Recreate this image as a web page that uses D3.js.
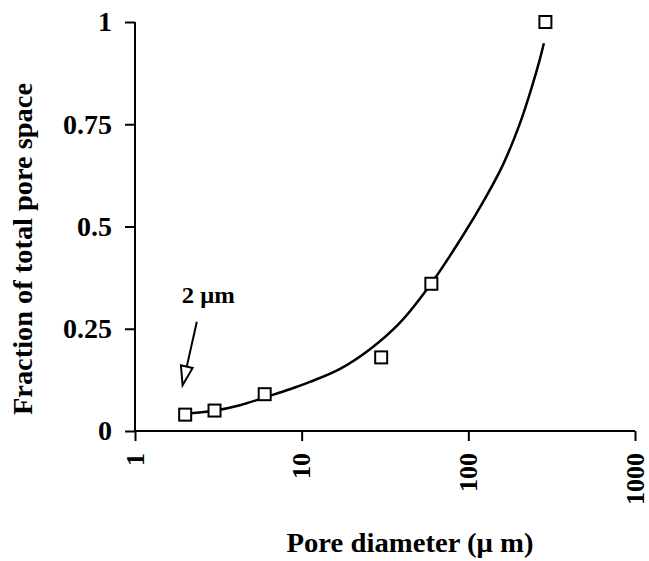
<!DOCTYPE html>
<html>
<head>
<meta charset="utf-8">
<script src="https://cdn.jsdelivr.net/npm/d3@7"></script>
<style>
  body { margin: 0; background: #fff; }
  text { font-family: "Liberation Serif", "Times New Roman", serif; font-weight: bold; fill: #000; }
</style>
</head>
<body>
<div class="chart"></div>
<script>
var svgWidth = 649;
var svgHeight = 561;

// measured points (pore diameter in um, fraction of pore space)
var poreDiameter = [2, 3, 6, 30, 60, 290];
var poreFraction = [0.04, 0.05, 0.09, 0.18, 0.36, 1.0];

// fitted curve
var curveX = [2.08, 3.02, 4.26, 6.1, 8.5, 11.2, 17, 25.7, 38.9, 60.2, 92.8, 128.7, 161, 204, 240, 269, 284];
var curveY = [0.043, 0.050, 0.063, 0.083, 0.102, 0.120, 0.152, 0.200, 0.265, 0.362, 0.478, 0.575, 0.650, 0.752, 0.840, 0.910, 0.948];

var xTicks = [1, 10, 100, 1000];
var yTicks = [0, 0.25, 0.5, 0.75, 1];
var yTickLabels = ["0", "0.25", "0.5", "0.75", "1"];

var margin = { top: 22, right: 14, bottom: 130, left: 135 };
var width = 635 - margin.left;
var height = 431 - margin.top;

var svg = d3.select(".chart")
  .append("svg")
  .attr("width", svgWidth)
  .attr("height", svgHeight);

var chartGroup = svg.append("g")
  .attr("transform", `translate(${margin.left}, ${margin.top})`);

var xLogScale = d3.scaleLog()
  .domain([1, 1000])
  .range([0, width]);

var yLinearScale = d3.scaleLinear()
  .domain([0, 1])
  .range([height, 0]);

// x axis
var bottomAxis = d3.axisBottom(xLogScale)
  .tickValues(xTicks)
  .tickSize(10)
  .tickFormat("");

var xAxis = chartGroup.append("g")
  .attr("transform", `translate(0, ${height})`)
  .call(bottomAxis);

xAxis.select(".domain").attr("d", `M0,0H${width}`);

xAxis.selectAll("text.xlab")
  .data(xTicks)
  .enter()
  .append("text")
  .attr("class", "xlab")
  .attr("transform", d => `translate(${xLogScale(d)}, 22) rotate(-90)`)
  .attr("text-anchor", "end")
  .attr("dy", "0.33em")
  .attr("font-size", 26)
  .text(d => d);

// y axis
var leftAxis = d3.axisLeft(yLinearScale)
  .tickValues(yTicks)
  .tickSize(10)
  .tickFormat((d, i) => yTickLabels[i]);

var yAxis = chartGroup.append("g")
  .call(leftAxis);

yAxis.select(".domain").attr("d", `M0,${height}V0`);

yAxis.selectAll(".tick text")
  .attr("x", -23)
  .attr("font-size", 28)
  .style("font-family", "'Liberation Serif', 'Times New Roman', serif")
  .style("font-weight", "bold");

chartGroup.selectAll(".domain, .tick line")
  .attr("stroke", "#000")
  .attr("stroke-width", 2);

// fitted curve
var curveData = curveX.map((d, i) => ({ x: d, y: curveY[i] }));

var line = d3.line()
  .x(d => xLogScale(d.x))
  .y(d => yLinearScale(d.y))
  .curve(d3.curveCatmullRom);

chartGroup.append("path")
  .datum(curveData)
  .attr("d", line)
  .attr("fill", "none")
  .attr("stroke", "#000")
  .attr("stroke-width", 2.5);

// squares
var pointData = poreDiameter.map((d, i) => ({ x: d, y: poreFraction[i] }));

chartGroup.selectAll("rect.pt")
  .data(pointData)
  .enter()
  .append("rect")
  .attr("class", "pt")
  .attr("x", d => xLogScale(d.x) - 6)
  .attr("y", d => yLinearScale(d.y) - 6)
  .attr("width", 12)
  .attr("height", 12)
  .attr("fill", "#fff")
  .attr("stroke", "#000")
  .attr("stroke-width", 2);

// "2 um" annotation with open arrow
var arrowTail = { x: 2.35, y: 0.267 };
var arrowTip = { x: 1.93, y: 0.112 };
var tx = xLogScale(arrowTail.x), ty = yLinearScale(arrowTail.y);
var hx = xLogScale(arrowTip.x), hy = yLinearScale(arrowTip.y);
var ang = Math.atan2(hy - ty, hx - tx);
var headLen = 19, headHalf = 6;
var bx = hx - headLen * Math.cos(ang), by = hy - headLen * Math.sin(ang);
var px = -Math.sin(ang) * headHalf, py = Math.cos(ang) * headHalf;

chartGroup.append("line")
  .attr("x1", tx).attr("y1", ty)
  .attr("x2", bx).attr("y2", by)
  .attr("stroke", "#000")
  .attr("stroke-width", 2);

chartGroup.append("path")
  .attr("d", `M${hx},${hy}L${bx + px},${by + py}L${bx - px},${by - py}Z`)
  .attr("fill", "#fff")
  .attr("stroke", "#000")
  .attr("stroke-width", 2);

chartGroup.append("text")
  .attr("x", xLogScale(1.91))
  .attr("y", yLinearScale(0.313))
  .attr("font-size", 24)
  .attr("textLength", 53)
  .attr("lengthAdjust", "spacingAndGlyphs")
  .text("2 \u03bcm");

// axis titles
svg.append("text")
  .attr("x", 410)
  .attr("y", 552)
  .attr("text-anchor", "middle")
  .attr("font-size", 28)
  .attr("textLength", 247)
  .attr("lengthAdjust", "spacingAndGlyphs")
  .text("Pore diameter  (\u03bc m)");

svg.append("text")
  .attr("transform", "translate(32, 249) rotate(-90)")
  .attr("text-anchor", "middle")
  .attr("font-size", 27)
  .attr("textLength", 332)
  .attr("lengthAdjust", "spacingAndGlyphs")
  .text("Fraction of total pore space");
</script>
</body>
</html>
